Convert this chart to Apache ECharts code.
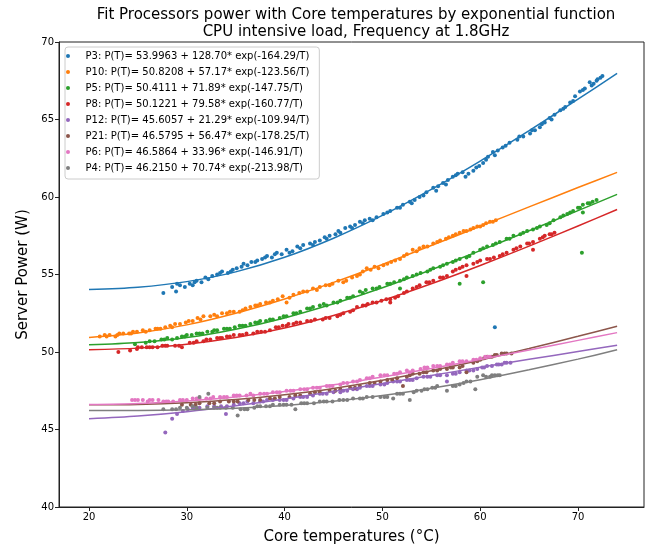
<!DOCTYPE html>
<html>
<head>
<meta charset="utf-8">
<script src="https://cdn.jsdelivr.net/npm/echarts@6/dist/echarts.min.js"></script>
<style>
  html, body { margin: 0; padding: 0; background: #fff; }
  #chart { width: 654px; height: 550px; }
</style>
</head>
<body>
<div id="chart"></div>
<script>
// series names as shown in the legend
var names = [
  'P3: P(T)= 53.9963 + 128.70* exp(-164.29/T)',
  'P10: P(T)= 50.8208 + 57.17* exp(-123.56/T)',
  'P5: P(T)= 50.4111 + 71.89* exp(-147.75/T)',
  'P8: P(T)= 50.1221 + 79.58* exp(-160.77/T)',
  'P12: P(T)= 45.6057 + 21.29* exp(-109.94/T)',
  'P21: P(T)= 46.5795 + 56.47* exp(-178.25/T)',
  'P6: P(T)= 46.5864 + 33.96* exp(-146.91/T)',
  'P4: P(T)= 46.2150 + 70.74* exp(-213.98/T)'
];
var colors = ['#1f77b4', '#ff7f0e', '#2ca02c', '#d62728', '#9467bd', '#8c564b', '#e377c2', '#7f7f7f'];

var xTicks = [20, 30, 40, 50, 60, 70];

// measured points [temperature, power]
var p3Pts = [[27.6,53.8],[28.5,54.2],[28.9,53.9],[29.3,54.3],[29.8,54.2],[30.3,54.4],[30.6,54.3],[31.0,54.6],[31.5,54.5],[31.9,54.8],[32.6,54.9],[33.1,55.0],[33.6,55.2],[34.2,55.1],[34.7,55.3],[35.1,55.4],[35.6,55.5],[36.2,55.6],[36.6,55.8],[37.2,55.9],[37.7,56.0],[38.2,56.2],[38.7,56.1],[39.2,56.4],[39.7,56.3],[40.2,56.6],[40.8,56.5],[41.3,56.8],[41.9,56.9],[42.6,57.0],[43.1,57.1],[43.6,57.2],[44.1,57.4],[44.6,57.5],[45.2,57.6],[45.7,57.7],[46.2,58.0],[46.7,58.1],[47.2,58.2],[47.7,58.4],[48.2,58.5],[48.7,58.6],[49.4,58.7],[50.1,58.9],[50.8,59.1],[51.5,59.3],[52.1,59.5],[52.8,59.7],[53.3,59.8],[53.8,60.0],[54.5,60.3],[55.2,60.6],[55.7,60.7],[56.2,60.9],[56.7,61.1],[57.2,61.3],[57.7,61.5],[58.2,61.6],[58.8,61.5],[59.3,61.7],[59.6,61.9],[60.3,62.2],[60.8,62.6],[61.3,62.9],[61.8,63.0],[62.3,63.2],[63.0,63.5],[63.8,63.7],[64.4,63.9],[65.1,64.1],[65.6,64.3],[66.1,64.5],[66.6,64.8],[67.1,65.1],[67.6,65.3],[68.2,65.6],[68.7,65.8],[69.2,66.1],[69.7,66.5],[70.2,66.8],[70.7,67.0],[71.2,67.4],[71.6,67.3],[72.0,67.6],[72.5,67.8],[61.5,51.6],
  [29.0,54.4],[30.8,54.5],[32.2,54.7],[33.4,55.1],[34.5,55.2],[35.8,55.7],[37.0,55.8],[38.0,56.1],[39.0,56.3],[40.5,56.4],[41.6,56.7],[42.9,56.9],[44.3,57.3],[45.5,57.8],[46.9,58.0],[48.0,58.3],[49.0,58.5],[50.5,59.0],[51.8,59.3],[53.0,59.6],[54.2,60.1],[55.5,60.4],[56.5,60.8],[57.5,61.4],[58.5,61.3],[59.9,62.0],[60.6,62.4],[61.5,62.7],[62.6,63.3],[64.0,63.9],[65.3,64.3],[66.3,64.7],[67.3,65.0],[68.5,65.7],[69.5,66.2],[70.5,66.9],[71.4,67.2],[71.9,67.5],[72.3,67.7]];
var p10Pts = [[21.1,51.0],[21.6,51.1],[22.1,51.1],[22.7,51.0],[23.1,51.2],[23.5,51.2],[24.1,51.2],[24.5,51.3],[24.9,51.3],[25.5,51.4],[26.2,51.4],[26.8,51.5],[27.3,51.5],[27.8,51.6],[28.3,51.7],[28.8,51.8],[29.3,51.8],[29.9,51.9],[30.6,52.0],[31.1,52.2],[31.7,52.3],[32.4,52.3],[33.1,52.3],[33.6,52.5],[34.1,52.5],[34.8,52.6],[35.4,52.6],[36.0,52.8],[36.5,52.9],[37.0,53.0],[37.5,53.1],[38.1,53.2],[38.8,53.3],[39.3,53.4],[39.8,53.6],[40.2,53.2],[40.9,53.7],[41.5,53.8],[42.3,53.9],[42.9,54.1],[43.6,54.2],[44.2,54.3],[44.9,54.4],[45.5,54.6],[46.3,54.6],[46.9,54.8],[47.4,54.9],[48.0,55.2],[48.4,55.4],[49.2,55.5],[50.1,55.6],[50.9,55.8],[51.8,56.0],[52.5,56.3],[53.1,56.6],[53.8,56.7],[54.6,56.8],[55.2,57.0],[55.9,57.2],[56.5,57.3],[57.2,57.5],[57.9,57.7],[58.6,57.8],[59.3,58.0],[60.0,58.1],[60.6,58.3],[61.3,58.4],[61.6,58.5],
  [21.8,51.0],[22.9,51.1],[24.3,51.2],[25.8,51.3],[27.0,51.5],[28.5,51.6],[30.2,52.0],[31.4,52.1],[32.8,52.4],[34.4,52.6],[35.7,52.7],[37.2,53.0],[38.5,53.2],[40.5,53.5],[41.9,53.9],[43.3,54.0],[44.6,54.3],[46.0,54.5],[47.7,55.0],[48.8,55.3],[49.6,55.4],[50.5,55.7],[51.3,55.9],[52.2,56.2],[53.5,56.5],[54.2,56.8],[55.6,57.1],[56.8,57.4],[57.5,57.6],[58.3,57.8],[59.0,57.9],[59.7,58.1],[60.3,58.2],[61.0,58.4]];
var p5Pts = [[24.7,50.5],[25.8,50.6],[26.7,50.7],[27.4,50.8],[28.0,50.9],[28.5,50.8],[29.0,50.9],[29.5,51.0],[30.0,51.1],[30.5,51.1],[31.0,51.2],[31.6,51.2],[32.1,51.3],[32.6,51.3],[33.1,51.4],[33.8,51.5],[34.4,51.5],[34.9,51.6],[35.4,51.7],[36.0,51.7],[36.5,51.8],[37.0,51.9],[37.5,52.0],[38.1,52.0],[38.8,52.1],[39.5,52.2],[40.2,52.3],[40.9,52.5],[41.6,52.6],[42.3,52.8],[42.9,52.9],[43.6,53.0],[44.3,53.0],[45.0,53.2],[45.7,53.3],[46.4,53.5],[47.0,53.6],[47.7,53.9],[48.3,54.0],[49.0,54.1],[49.7,54.2],[50.5,54.4],[51.2,54.5],[51.8,54.6],[51.8,54.1],[52.5,54.8],[53.1,54.9],[53.9,55.1],[54.6,55.2],[55.2,55.4],[55.9,55.5],[56.6,55.7],[57.2,55.8],[57.9,56.0],[57.9,54.4],[58.6,56.1],[59.3,56.4],[60.0,56.6],[60.3,54.5],[60.7,56.8],[61.3,56.9],[62.0,57.1],[62.7,57.3],[63.4,57.5],[64.1,57.6],[64.8,57.8],[65.4,57.9],[66.1,58.1],[66.8,58.2],[67.5,58.5],[68.2,58.7],[68.9,58.9],[69.5,59.1],[70.0,59.3],[70.5,59.5],[70.5,59.0],[71.0,59.6],[71.5,59.7],[71.9,59.8],[70.4,56.4],
  [26.2,50.7],[27.7,50.8],[29.8,51.0],[31.3,51.2],[32.8,51.4],[34.1,51.5],[35.7,51.7],[37.3,51.9],[38.5,52.1],[39.9,52.3],[41.2,52.5],[42.6,52.8],[44.0,53.1],[45.4,53.2],[46.7,53.5],[48.0,53.8],[49.4,54.1],[50.8,54.4],[52.2,54.7],[53.5,55.0],[54.9,55.3],[56.2,55.6],[57.5,55.9],[58.9,56.2],[60.3,56.7],[61.6,57.0],[63.0,57.3],[64.4,57.7],[65.8,58.0],[67.1,58.3],[68.5,58.8],[69.2,59.0],[70.2,59.3],[71.2,59.6]];
var p8Pts = [[23.0,50.0],[24.2,50.1],[24.9,50.2],[25.4,50.3],[25.9,50.3],[26.5,50.3],[27.0,50.3],[27.5,50.4],[28.0,50.4],[28.8,50.4],[29.5,50.3],[30.3,50.6],[31.0,50.7],[31.7,50.7],[32.4,50.8],[33.1,50.9],[33.6,50.9],[34.1,51.0],[34.8,51.1],[35.4,51.1],[36.1,51.2],[36.8,51.2],[37.6,51.3],[38.5,51.4],[39.1,51.6],[39.8,51.7],[40.4,51.8],[40.9,51.8],[41.6,51.9],[42.3,52.0],[43.1,52.1],[43.9,52.1],[44.6,52.2],[45.4,52.3],[46.0,52.5],[46.7,52.6],[47.4,52.9],[48.0,53.0],[48.5,53.1],[49.0,53.2],[49.9,53.3],[50.8,53.4],[50.8,53.2],[51.6,53.6],[52.5,53.9],[53.1,54.1],[53.8,54.3],[54.5,54.5],[55.2,54.6],[55.9,54.8],[56.6,54.9],[57.2,55.2],[57.9,55.4],[58.6,54.9],[58.6,55.6],[59.3,55.7],[60.0,55.9],[60.7,56.0],[61.4,56.1],[62.0,56.2],[62.7,56.4],[63.4,56.6],[64.1,56.8],[64.8,57.0],[65.4,56.6],[65.4,57.1],[66.1,57.3],[66.6,57.5],[67.1,57.6],[67.6,57.7],
  [25.0,50.3],[26.2,50.3],[27.8,50.4],[29.2,50.4],[30.7,50.6],[32.0,50.8],[33.4,50.9],[34.4,51.0],[35.7,51.1],[37.2,51.3],[38.0,51.3],[39.4,51.6],[40.2,51.7],[41.2,51.9],[42.7,52.0],[44.2,52.2],[45.7,52.4],[47.0,52.7],[48.3,53.0],[49.4,53.2],[50.4,53.4],[51.3,53.5],[52.2,53.8],[53.5,54.2],[54.8,54.5],[56.2,54.8],[57.5,55.3],[58.2,55.5],[59.7,55.8],[61.0,56.0],[62.3,56.3],[63.7,56.7],[65.0,57.0],[66.4,57.4],[67.3,57.6]];
var p12Pts = [[27.8,44.8],[28.5,45.7],[29.0,46.0],[29.6,46.2],[30.1,46.3],[30.6,46.4],[31.3,46.4],[32.1,46.5],[32.8,46.5],[34.0,46.0],[34.1,46.5],[34.8,46.6],[35.4,46.7],[36.2,46.8],[36.8,46.7],[37.5,46.8],[38.2,46.9],[38.8,46.9],[39.5,46.9],[40.2,46.9],[40.9,47.0],[41.6,47.1],[42.3,47.1],[42.9,47.2],[43.6,47.3],[44.3,47.3],[45.0,47.4],[45.7,47.4],[46.4,47.5],[47.0,47.6],[47.7,47.7],[48.4,47.8],[49.0,47.8],[49.8,47.9],[50.5,48.0],[51.1,48.1],[51.8,48.1],[52.5,48.2],[53.1,48.2],[53.5,48.3],[54.2,48.4],[54.9,48.4],[55.6,48.5],[56.6,48.1],[56.6,48.5],[57.2,48.6],[57.9,48.7],[58.6,48.8],[59.3,48.8],[59.7,48.9],[60.2,49.0],[60.7,49.1],[61.2,49.1],[61.7,49.2],[62.2,49.2],[62.7,49.3],[63.1,49.3],
  [30.9,46.4],[33.5,46.5],[35.8,46.7],[37.8,46.8],[39.9,46.9],[41.9,47.1],[43.9,47.3],[46.0,47.5],[47.4,47.6],[48.7,47.8],[50.2,47.9],[51.5,48.1],[52.8,48.2],[54.6,48.4],[55.9,48.5],[57.5,48.6],[58.9,48.8],[60.4,49.0],[61.9,49.2],[62.5,49.3]];
var p21Pts = [[29.5,46.6],[30.4,46.6],[31.3,46.7],[32.3,46.7],[33.4,46.8],[34.3,46.8],[35.2,46.8],[36.3,46.9],[37.5,46.9],[38.5,47.0],[39.5,47.1],[40.5,47.1],[41.6,47.2],[42.6,47.3],[43.6,47.4],[44.6,47.5],[45.7,47.6],[46.7,47.7],[47.7,47.8],[48.7,48.0],[49.8,48.1],[50.5,48.2],[51.5,48.3],[52.1,47.8],[52.5,48.4],[53.1,48.6],[53.8,48.6],[54.5,48.7],[55.2,48.8],[55.9,48.9],[56.6,48.9],[57.2,49.0],[57.9,49.0],[58.6,48.7],[59.3,49.3],[60.0,49.5],[60.7,49.7],[61.2,49.7],[61.7,49.8],[62.2,49.9],[62.7,49.9],[63.2,49.9],
  [30.9,46.6],[32.8,46.7],[34.8,46.8],[36.9,46.9],[39.0,47.0],[41.1,47.2],[43.1,47.4],[45.2,47.5],[47.2,47.7],[49.2,48.0],[51.0,48.2],[52.8,48.5],[54.2,48.7],[55.6,48.8],[57.0,49.0],[58.2,49.1],[59.7,49.4],[60.4,49.6],[61.5,49.8],[62.5,49.9]];
var p6Pts = [[24.4,46.9],[25.0,46.9],[25.5,46.9],[26.0,46.8],[26.5,46.9],[27.1,46.9],[27.6,46.8],[28.1,46.8],[28.6,46.8],[29.3,46.9],[30.0,46.9],[30.6,47.0],[31.3,47.0],[32.0,47.0],[32.7,47.1],[33.4,47.1],[34.1,47.1],[34.8,47.2],[35.4,47.2],[36.1,47.2],[36.8,47.2],[37.5,47.3],[38.2,47.3],[38.8,47.4],[39.5,47.4],[40.2,47.5],[40.9,47.5],[41.6,47.6],[42.3,47.6],[42.9,47.7],[43.6,47.7],[44.3,47.8],[44.9,47.8],[45.7,47.9],[46.4,48.0],[47.0,48.1],[47.7,48.2],[48.4,48.3],[49.0,48.4],[49.8,48.5],[50.5,48.5],[51.2,48.6],[51.8,48.7],[52.5,48.8],[53.1,48.8],[53.9,48.9],[54.6,49.0],[55.2,49.1],[55.9,49.1],[56.6,49.2],[57.2,49.3],[57.9,49.4],[58.6,49.4],[59.3,49.5],[60.0,49.6],[60.5,49.7],[61.0,49.7],
  [24.7,46.9],[26.2,46.9],[27.9,46.8],[29.6,46.9],[31.0,47.0],[32.4,47.0],[33.8,47.1],[35.1,47.2],[36.5,47.3],[37.9,47.3],[39.2,47.4],[40.6,47.5],[42.0,47.6],[43.3,47.7],[44.6,47.8],[46.0,48.0],[47.4,48.1],[48.7,48.3],[50.2,48.5],[51.5,48.6],[52.8,48.7],[54.3,49.0],[55.6,49.1],[56.9,49.2],[58.2,49.4],[59.6,49.5],[60.8,49.7]];
var p4Pts = [[27.6,46.3],[28.5,46.3],[29.3,46.4],[30.0,46.4],[30.6,46.5],[31.3,47.1],[32.1,46.4],[32.2,47.3],[32.8,46.4],[33.4,46.4],[34.0,46.4],[34.7,46.4],[35.2,45.9],[35.5,46.3],[36.2,46.3],[36.9,46.4],[37.5,46.5],[38.1,46.5],[38.8,46.6],[39.5,46.6],[40.2,46.6],[40.7,46.6],[41.1,46.3],[41.7,46.7],[42.3,46.7],[43.0,46.7],[43.6,46.8],[44.3,46.8],[44.9,46.8],[45.6,46.9],[46.4,46.9],[47.0,47.0],[47.7,47.0],[48.4,47.1],[49.0,47.1],[49.8,47.1],[50.5,47.1],[51.1,47.0],[51.5,47.3],[52.1,47.3],[52.8,46.9],[53.5,47.5],[54.0,47.5],[54.6,47.6],[55.1,47.7],[55.6,47.8],[56.6,47.5],[57.2,47.8],[57.9,47.9],[58.6,48.1],[59.5,47.6],[59.7,48.4],[60.3,48.5],[61.0,48.4],[61.5,48.5],[62.0,48.5],
  [28.9,46.3],[31.0,46.4],[33.1,46.4],[35.9,46.3],[37.2,46.5],[38.5,46.5],[39.9,46.6],[42.0,46.7],[44.0,46.8],[46.0,46.9],[48.0,47.0],[50.2,47.1],[51.8,47.3],[53.2,47.4],[54.3,47.6],[55.4,47.7],[57.5,47.8],[58.3,48.0],[59.0,48.1],[60.6,48.4],[61.2,48.5],[61.8,48.5]];

// fitted curves read at these temperatures
var fitT = [20, 25, 30, 35, 40, 45, 50, 55, 60, 65, 70, 74];
var p3Fit  = [54.03, 54.18, 54.54, 55.17, 56.11, 57.34, 58.81, 60.49, 62.32, 64.28, 66.31, 67.97];
var p10Fit = [50.94, 51.23, 51.75, 52.50, 53.42, 54.49, 55.65, 56.87, 58.11, 59.36, 60.61, 61.59];
var p5Fit  = [50.46, 50.61, 50.93, 51.47, 52.20, 53.11, 54.15, 55.31, 56.54, 57.82, 59.12, 60.17];
var p8Fit  = [50.15, 50.25, 50.50, 50.93, 51.55, 52.36, 53.32, 54.40, 55.58, 56.83, 58.13, 59.19];
var p12Fit = [45.69, 45.87, 46.15, 46.53, 46.97, 47.46, 47.97, 48.49, 49.01, 49.53, 50.03, 50.43];
var p21Fit = [46.59, 46.62, 46.73, 46.93, 47.24, 47.65, 48.18, 48.79, 49.47, 50.22, 51.01, 51.66];
var p6Fit  = [46.61, 46.68, 46.84, 47.10, 47.45, 47.88, 48.39, 48.94, 49.52, 50.13, 50.75, 51.25];
var p4Fit  = [46.22, 46.23, 46.27, 46.37, 46.55, 46.82, 47.19, 47.66, 48.21, 48.85, 49.54, 50.14];

var allPts = [p3Pts, p10Pts, p5Pts, p8Pts, p12Pts, p21Pts, p6Pts, p4Pts];
var allFit = [p3Fit, p10Fit, p5Fit, p8Fit, p12Fit, p21Fit, p6Fit, p4Fit];

var font = 'DejaVu Sans';
var series = [];
for (var i = 0; i < names.length; i++) {
  series.push({
    name: names[i],
    type: 'scatter',
    symbolSize: 4,
    itemStyle: { color: colors[i], opacity: 1 },
    data: allPts[i]
  });
  var line = [];
  for (var j = 0; j < fitT.length; j++) line.push([fitT[j], allFit[i][j]]);
  series.push({
    name: 'fit' + i,
    type: 'line',
    smooth: 0.3,
    showSymbol: false,
    lineStyle: { color: colors[i], width: 1.5 },
    data: line
  });
}

var chart = echarts.init(document.getElementById('chart'));
chart.setOption({
  animation: false,
  backgroundColor: '#fff',
  title: {
    text: 'Fit Processors power with Core temperatures by exponential function\nCPU intensive load, Frequency at 1.8GHz',
    left: 351,
    top: 2,
    textAlign: 'center',
    textStyle: { fontFamily: font, fontSize: 15, fontWeight: 'normal', color: '#000', lineHeight: 17 }
  },
  legend: {
    data: names,
    orient: 'vertical',
    left: 65,
    top: 47,
    padding: [1, 10, 3, 1],
    itemGap: 0,
    itemWidth: 25,
    itemHeight: 4,
    icon: 'circle',
    borderColor: '#ccc',
    borderWidth: 1,
    borderRadius: 3,
    backgroundColor: '#fff',
    textStyle: { fontFamily: font, fontSize: 10, color: '#000', lineHeight: 16 }
  },
  grid: {
    left: 59, right: 10, top: 42, bottom: 41,
    show: true, borderColor: '#222', borderWidth: 1
  },
  xAxis: {
    type: 'value',
    min: 16.93,
    max: 76.75,
    name: 'Core temperatures (°C)',
    nameLocation: 'middle',
    nameGap: 23,
    nameTextStyle: { fontFamily: font, fontSize: 15, color: '#000' },
    axisLine: { lineStyle: { color: '#222' } },
    axisTick: { customValues: xTicks, length: 4, lineStyle: { color: '#222' } },
    axisLabel: { customValues: xTicks, fontFamily: font, fontSize: 10, color: '#000', margin: 5 },
    splitLine: { show: false }
  },
  yAxis: {
    type: 'value',
    min: 40,
    max: 70,
    interval: 5,
    name: 'Server Power (W)',
    nameLocation: 'middle',
    nameGap: 11,
    nameTextStyle: { fontFamily: font, fontSize: 15, color: '#000' },
    axisLine: { show: true, lineStyle: { color: '#222' } },
    axisTick: { show: true, length: 4, lineStyle: { color: '#222' } },
    axisLabel: { fontFamily: font, fontSize: 10, color: '#000', margin: 5 },
    splitLine: { show: false }
  },
  series: series
});
</script>
</body>
</html>
